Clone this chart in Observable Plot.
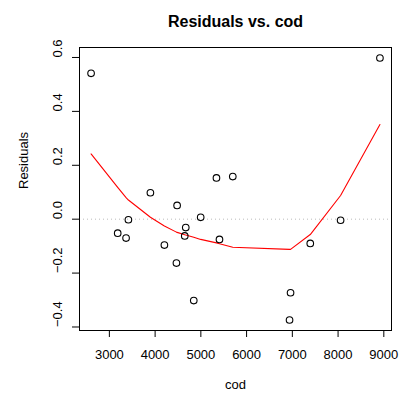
<!DOCTYPE html>
<html>
<head>
<meta charset="utf-8">
<script src="https://cdn.jsdelivr.net/npm/d3@7"></script>
<script src="https://cdn.jsdelivr.net/npm/@observablehq/plot@0.6"></script>
<style>
  html, body { margin: 0; padding: 0; background: #fff; }
  svg { font-family: "Liberation Sans", Arial, sans-serif; }
</style>
</head>
<body>
<div id="chart"></div>
<script>
// Data
const cod = [2600, 3182, 3365, 3416, 3897, 4203, 4466, 4481, 4648, 4670,
             4845, 4996, 5341, 5407, 5698, 6939, 6961, 7392, 8055, 8915];
const residuals = [0.541, -0.052, -0.070, -0.002, 0.098, -0.096, -0.163, 0.051, -0.062, -0.031,
                   -0.302, 0.007, 0.153, -0.075, 0.158, -0.374, -0.273, -0.090, -0.004, 0.598];
const smoothFit = [0.242, 0.118, 0.080, 0.071, 0.007, -0.025, -0.048, -0.049, -0.058, -0.059,
                   -0.067, -0.075, -0.088, -0.091, -0.104, -0.112, -0.112, -0.057, 0.088, 0.351];
const xTicks = [3000, 4000, 5000, 6000, 7000, 8000, 9000];
const yTicks = [-0.4, -0.2, 0.0, 0.2, 0.4, 0.6];
const yTickLabels = ["\u22120.4", "\u22120.2", "0.0", "0.2", "0.4", "0.6"];
const titleText = "Residuals vs. cod";
const xLabel = "cod";
const yLabel = "Residuals";

const points = cod.map((c, i) => ({cod: c, res: residuals[i]}));
const smooth = cod.map((c, i) => ({cod: c, fit: smoothFit[i]}));
const yTickData = yTicks.map((v, i) => ({v, label: yTickLabels[i]}));

const chart = Plot.plot({
  width: 405,
  height: 402,
  marginLeft: 79,
  marginRight: 14,
  marginTop: 47,
  marginBottom: 72,
  style: {fontFamily: "'Liberation Sans', Arial, sans-serif", fontSize: "13px", color: "#000"},
  x: {domain: [2347, 9168]},
  y: {domain: [-0.413, 0.637]},
  marks: [
    Plot.ruleY([0], {stroke: "#bbbbbb", strokeDasharray: "1,3", strokeWidth: 1}),
    Plot.line(smooth, {x: "cod", y: "fit", stroke: "#ff0000", strokeWidth: 1.1}),
    Plot.dot(points, {x: "cod", y: "res", r: 3.3, stroke: "#000", fill: "none", strokeWidth: 1.1}),
    Plot.frame({stroke: "#000", strokeWidth: 1}),
    Plot.axisX({ticks: xTicks, tickSize: 7, tickPadding: 12, tickFormat: d => String(d), label: null, fontSize: 13}),
    Plot.axisY({ticks: yTicks, tickSize: 7, tickFormat: () => "", label: null}),
    Plot.text(yTickData, {y: "v", text: "label", frameAnchor: "left", dx: -22, rotate: -90, fontSize: 13}),
    Plot.text([yLabel], {frameAnchor: "left", dx: -56, rotate: -90, fontSize: 13}),
    Plot.text([xLabel], {frameAnchor: "bottom", dy: 58, fontSize: 13}),
    Plot.text([titleText], {frameAnchor: "top", dy: -32, fontSize: 16, fontWeight: "bold"})
  ]
});
document.getElementById("chart").appendChild(chart);
</script>
</body>
</html>
